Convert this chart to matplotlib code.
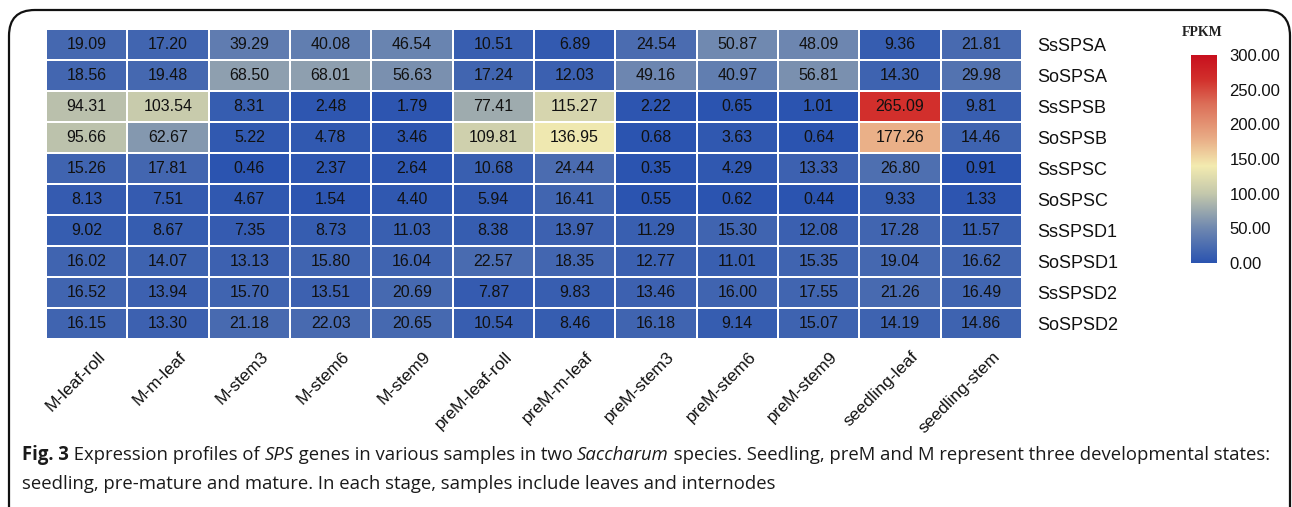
import numpy as np
import matplotlib
matplotlib.use("Agg")
import matplotlib.pyplot as plt
from matplotlib.colors import LinearSegmentedColormap, Normalize
from matplotlib.patches import FancyBboxPatch
import matplotlib.transforms as mtransforms

samples = ["M-leaf-roll", "M-m-leaf", "M-stem3", "M-stem6", "M-stem9",
           "preM-leaf-roll", "preM-m-leaf", "preM-stem3", "preM-stem6",
           "preM-stem9", "seedling-leaf", "seedling-stem"]
genes = ["SsSPSA", "SoSPSA", "SsSPSB", "SoSPSB", "SsSPSC", "SoSPSC",
         "SsSPSD1", "SoSPSD1", "SsSPSD2", "SoSPSD2"]

SsSPSA = [19.09, 17.20, 39.29, 40.08, 46.54, 10.51, 6.89, 24.54, 50.87, 48.09, 9.36, 21.81]
SoSPSA = [18.56, 19.48, 68.50, 68.01, 56.63, 17.24, 12.03, 49.16, 40.97, 56.81, 14.30, 29.98]
SsSPSB = [94.31, 103.54, 8.31, 2.48, 1.79, 77.41, 115.27, 2.22, 0.65, 1.01, 265.09, 9.81]
SoSPSB = [95.66, 62.67, 5.22, 4.78, 3.46, 109.81, 136.95, 0.68, 3.63, 0.64, 177.26, 14.46]
SsSPSC = [15.26, 17.81, 0.46, 2.37, 2.64, 10.68, 24.44, 0.35, 4.29, 13.33, 26.80, 0.91]
SoSPSC = [8.13, 7.51, 4.67, 1.54, 4.40, 5.94, 16.41, 0.55, 0.62, 0.44, 9.33, 1.33]
SsSPSD1 = [9.02, 8.67, 7.35, 8.73, 11.03, 8.38, 13.97, 11.29, 15.30, 12.08, 17.28, 11.57]
SoSPSD1 = [16.02, 14.07, 13.13, 15.80, 16.04, 22.57, 18.35, 12.77, 11.01, 15.35, 19.04, 16.62]
SsSPSD2 = [16.52, 13.94, 15.70, 13.51, 20.69, 7.87, 9.83, 13.46, 16.00, 17.55, 21.26, 16.49]
SoSPSD2 = [16.15, 13.30, 21.18, 22.03, 20.65, 10.54, 8.46, 16.18, 9.14, 15.07, 14.19, 14.86]

cbar_ticks = [0, 50, 100, 150, 200, 250, 300]

data = np.array([SsSPSA, SoSPSA, SsSPSB, SoSPSB, SsSPSC, SoSPSC,
                 SsSPSD1, SoSPSD1, SsSPSD2, SoSPSD2])

W, H = 1292, 507
fig = plt.figure(figsize=(W / 100, H / 100), dpi=100)

def fx(px):
    return px / W

def fy(py):
    return 1 - py / H

# colormap
vmax = 300.0
stops = [(0, "#2b54b0"), (50, "#6f88b0"), (100, "#c4c8ac"), (140, "#f3ebb0"),
         (180, "#e9ac86"), (230, "#dc6e58"), (265, "#d2302c"), (300, "#c8101e")]
cmap = LinearSegmentedColormap.from_list("fpkm", [(v / vmax, c) for v, c in stops])
norm = Normalize(0, vmax)

# frame
frame = FancyBboxPatch((fx(9), fy(560)), fx(1290) - fx(9), fy(10) - fy(560),
                       boxstyle="round,pad=0,rounding_size=0.02",
                       transform=fig.transFigure, fill=False,
                       edgecolor="#111111", linewidth=1.6, mutation_aspect=W / H)
fig.add_artist(frame)

# heatmap
left, right, top, bottom = 46, 1022, 29, 339
ax = fig.add_axes([fx(left), fy(bottom), fx(right) - fx(left), fy(top) - fy(bottom)])
nr, nc = data.shape
ax.pcolormesh(np.arange(nc + 1), np.arange(nr + 1), data, cmap=cmap, norm=norm,
              edgecolors="white", linewidth=1.3)
ax.set_xlim(0, nc)
ax.set_ylim(nr, 0)
for s in ax.spines.values():
    s.set_visible(False)
ax.tick_params(length=0)
for i in range(nr):
    for j in range(nc):
        ax.text(j + 0.5, i + 0.5, f"{data[i, j]:.2f}", ha="center", va="center",
                fontsize=11.5, family="Liberation Sans", color="#111111")

ax.yaxis.tick_right()
ax.set_yticks(np.arange(nr) + 0.5)
ax.set_yticklabels(genes, fontsize=13, family="Liberation Sans", color="#111111")
ax.tick_params(axis="y", pad=11)

ax.set_xticks(np.arange(nc) + 0.5)
ax.set_xticklabels(samples, rotation=45, ha="right", va="top", rotation_mode="anchor",
                   fontsize=12.5, family="Liberation Sans", color="#111111")
ax.tick_params(axis="x", pad=0)
off = mtransforms.ScaledTranslation(11 / 100, -10 / 100, fig.dpi_scale_trans)
for lab in ax.get_xticklabels():
    lab.set_transform(lab.get_transform() + off)

# colorbar
cax = fig.add_axes([fx(1191), fy(263), fx(1217) - fx(1191), fy(55) - fy(263)])
grad = np.linspace(0, vmax, 256).reshape(-1, 1)
cax.imshow(grad, aspect="auto", origin="lower", cmap=cmap, norm=norm,
           extent=[0, 1, 0, vmax])
cax.set_xticks([])
cax.yaxis.tick_right()
cax.set_yticks(cbar_ticks)
cax.set_yticklabels([f"{t:.2f}" for t in cbar_ticks], fontsize=12, family="Liberation Sans",
                    color="#111111")
cax.tick_params(axis="y", length=0, pad=9)
for s in cax.spines.values():
    s.set_visible(False)
fig.text(fx(1202), fy(33), "FPKM", ha="center", va="center", fontsize=10,
         family="Liberation Serif", weight="bold", color="#222222")

# caption with mixed styles
renderer = fig.canvas.get_renderer()

def draw_runs(runs, x0, y0, size):
    x = x0
    for txt, weight, style in runs:
        t = fig.text(x, y0, txt, fontsize=size, family="Open Sans", weight=weight,
                     style=style, ha="left", va="baseline", color="#1a1a1a")
        bb = t.get_window_extent(renderer)
        x += bb.width / W
    return x

line1 = [("Fig. 3", "bold", "normal"), (" Expression profiles of ", "normal", "normal"),
         ("SPS", "normal", "italic"), (" genes in various samples in two ", "normal", "normal"),
         ("Saccharum", "normal", "italic"),
         (" species. Seedling, preM and M represent three developmental states:", "normal", "normal")]
line2 = [("seedling, pre-mature and mature. In each stage, samples include leaves and internodes",
          "normal", "normal")]

# measure first line width and fit it to the reference span
tmpx = 0
for txt, weight, style in line1:
    t = fig.text(0, -1, txt, fontsize=12, family="Open Sans", weight=weight, style=style)
    tmpx += t.get_window_extent(renderer).width
    t.remove()
size = 12 * (1267 - 22) / tmpx
draw_runs(line1, fx(22), fy(460), size)
draw_runs(line2, fx(22), fy(489), size)

fig.savefig("out.png", dpi=100)
